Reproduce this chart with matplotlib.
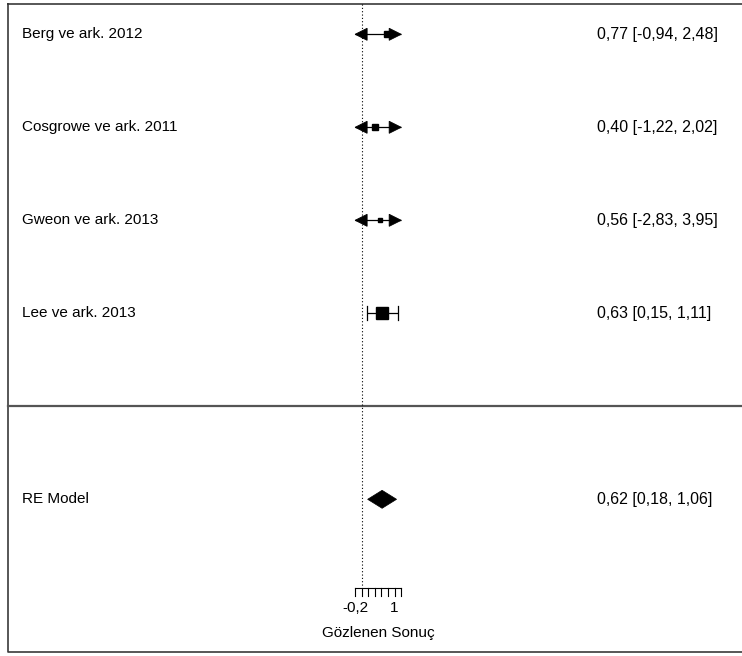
import numpy as np
import matplotlib
matplotlib.use("Agg")
import matplotlib.pyplot as plt
from matplotlib.patches import Polygon

# ---- data ----
studies = ["Berg ve ark. 2012", "Cosgrowe ve ark. 2011", "Gweon ve ark. 2013", "Lee ve ark. 2013"]
est = [0.77, 0.40, 0.56, 0.63]
ci_lo = [-0.94, -1.22, -2.83, 0.15]
ci_hi = [2.48, 2.02, 3.95, 1.11]
model_label = "RE Model"
model_est = 0.62
model_lo = 0.18
model_hi = 1.06
tick_values = [-0.2, 0.0, 0.2, 0.4, 0.6, 0.8, 1.0, 1.2]
tick_label_pos = [-0.2, 1.0]
tick_label_text = ["-0,2", "1"]
xlabel = "Gözlenen Sonuç"

plt.rcParams['font.family'] = ['Liberation Sans', 'DejaVu Sans']
FS = 11
FS_ANN = 11.5

W, H = 742, 656
fig = plt.figure(figsize=(W / 100, H / 100), dpi=100)
ax = fig.add_axes([0, 0, 1, 1])
ax.set_axis_off()

# layout: pixel <-> data mapping
X0, XS = 361.7, 32.9     # pixel of x=0, pixels per unit
Y1, YS = 313.3, 93.0     # pixel of row 1, pixels per row


def dx(px):
    return (px - X0) / XS


def dy(py):
    return 1 - (py - Y1) / YS


ax.set_xlim(dx(0), dx(W))
ax.set_ylim(dy(H), dy(0))

k = len(studies)
rows = np.arange(k, 0, -1)
alim = (tick_values[0], tick_values[-1])

# frame
fx = [dx(8), dx(8), dx(W + 10), dx(W + 10), dx(8)]
fy = [dy(4), dy(652), dy(652), dy(4), dy(4)]
ax.plot(fx, fy, color="#3a3a3a", lw=1.2, clip_on=False)

# separator line above the summary
ax.plot([dx(8), dx(W + 10)], [0, 0], color="#555555", lw=1.6)

# reference line at zero
ax.plot([0, 0], [dy(4), dy(586)], color="black", lw=0.8, linestyle=(0, (1, 2)))

# square sizes from inverse standard errors
se = (np.array(ci_hi) - np.array(ci_lo)) / 3.92
wi = 1 / se
ps = (wi - wi.min()) / (wi.max() - wi.min()) + 0.5

arr_len = 12 / XS
arr_h = 6 / YS
cap_h = 7 / YS

for r, e, lo, hi, p in zip(rows, est, ci_lo, ci_hi, ps):
    lo_c = max(lo, alim[0])
    hi_c = min(hi, alim[1])
    ax.plot([lo_c, hi_c], [r, r], color="black", lw=0.9, solid_capstyle="butt")
    if lo < alim[0]:
        ax.add_patch(Polygon([[alim[0], r], [alim[0] + arr_len, r + arr_h],
                              [alim[0] + arr_len, r - arr_h]], closed=True,
                             facecolor="black", edgecolor="black", lw=0.6))
    else:
        ax.plot([lo_c, lo_c], [r - cap_h, r + cap_h], color="black", lw=0.9)
    if hi > alim[1]:
        ax.add_patch(Polygon([[alim[1], r], [alim[1] - arr_len, r + arr_h],
                              [alim[1] - arr_len, r - arr_h]], closed=True,
                             facecolor="black", edgecolor="black", lw=0.6))
    else:
        ax.plot([hi_c, hi_c], [r - cap_h, r + cap_h], color="black", lw=0.9)
    ax.plot([e], [r], marker="s", markersize=8 * p * 0.72, color="black", mec="black")

# summary diamond
dh = 9 / YS
ax.add_patch(Polygon([[model_lo, -1], [model_est, -1 + dh], [model_hi, -1], [model_est, -1 - dh]],
                     closed=True, facecolor="black", edgecolor="black", lw=0.5))


def fmt(v):
    return f"{v:.2f}".replace(".", ",")


for r, name, e, lo, hi in zip(rows, studies, est, ci_lo, ci_hi):
    ax.text(dx(22), r, name, fontsize=FS, va="center", ha="left")
    ax.text(dx(597), r, f"{fmt(e)} [{fmt(lo)}, {fmt(hi)}]", fontsize=FS_ANN,
            va="center", ha="left")

ax.text(dx(22), -1, model_label, fontsize=FS, va="center", ha="left")
ax.text(dx(597), -1, f"{fmt(model_est)} [{fmt(model_lo)}, {fmt(model_hi)}]", fontsize=FS_ANN,
        va="center", ha="left")

# x axis
ya = dy(588)
ax.plot([tick_values[0], tick_values[-1]], [ya, ya], color="black", lw=0.8)
for t in tick_values:
    ax.plot([t, t], [ya, dy(596)], color="black", lw=0.8)
for t, s in zip(tick_label_pos, tick_label_text):
    ax.text(t, dy(608), s, fontsize=FS, ha="center", va="center")
ax.text(0.5, dy(633), xlabel, fontsize=FS, ha="center", va="center")

fig.savefig("out.png", dpi=100)
